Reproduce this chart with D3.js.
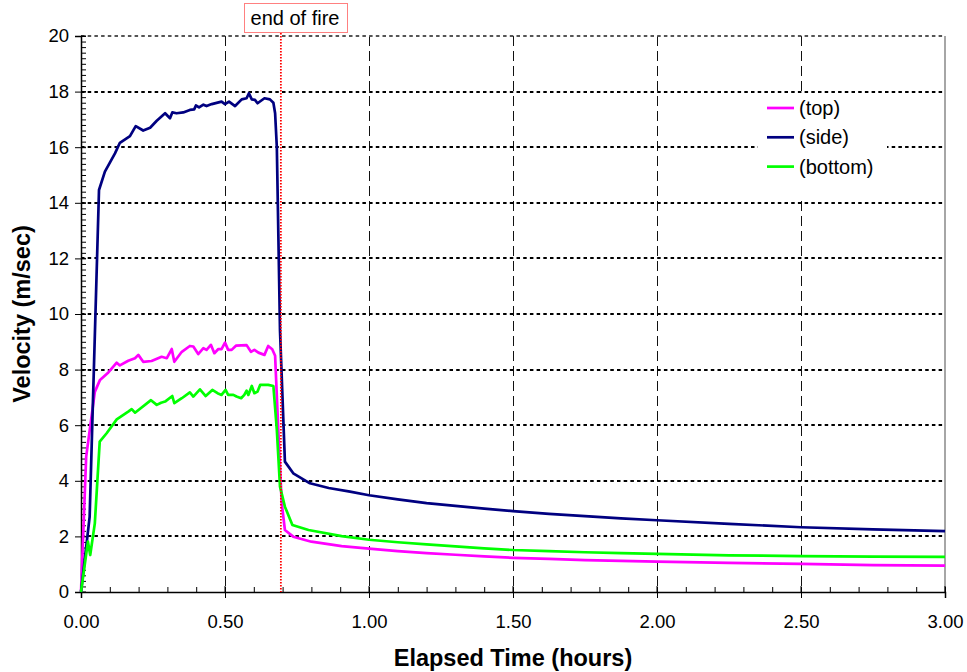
<html lang="en"><head>
<meta charset="utf-8">
<style>
body { margin: 0; background: #fff; font-family: Arial, "Liberation Sans", sans-serif; }
</style>
<script src="https://d3js.org/d3.v7.min.js"></script>
</head><body>
<div id="chart"></div>
<script>
// values: [hours, m/sec]
var topData = [[0,0],[0.018,4.87],[0.048,7.2],[0.066,7.63],[0.095,7.9],[0.124,8.25],[0.135,8.15],[0.164,8.32],[0.1875,8.41],[0.199,8.53],[0.216,8.28],[0.245,8.31],[0.28,8.46],[0.298,8.41],[0.315,8.74],[0.324,8.28],[0.35,8.64],[0.378,8.85],[0.39,8.83],[0.407,8.56],[0.425,8.77],[0.436,8.71],[0.451,8.89],[0.463,8.59],[0.477,8.74],[0.488,8.74],[0.5,8.97],[0.511,8.71],[0.523,8.71],[0.538,8.86],[0.575,8.88],[0.59,8.64],[0.602,8.71],[0.616,8.61],[0.637,8.53],[0.65,8.85],[0.664,8.73],[0.674,8.5],[0.685,5.83],[0.697,3.19],[0.708,2.23],[0.737,1.99],[0.8,1.81],[0.905,1.65],[1.0,1.56],[1.1,1.47],[1.2,1.4],[1.3,1.34],[1.4,1.28],[1.5,1.23],[1.625,1.19],[1.75,1.15],[1.875,1.12],[2.0,1.09],[2.25,1.05],[2.5,1.01],[2.75,0.97],[3.0,0.95]];

var sideData = [[0,0],[0.03,2.7],[0.0625,14.46],[0.083,15.12],[0.118,15.78],[0.135,16.16],[0.17,16.4],[0.19,16.76],[0.216,16.6],[0.24,16.7],[0.263,16.95],[0.292,17.22],[0.309,17.04],[0.317,17.25],[0.332,17.22],[0.355,17.25],[0.378,17.34],[0.393,17.36],[0.399,17.5],[0.41,17.43],[0.425,17.53],[0.436,17.48],[0.454,17.55],[0.488,17.64],[0.5,17.55],[0.514,17.64],[0.535,17.48],[0.558,17.72],[0.575,17.76],[0.583,17.94],[0.593,17.72],[0.604,17.7],[0.613,17.58],[0.637,17.76],[0.656,17.72],[0.668,17.6],[0.674,17.22],[0.68,16.0],[0.691,9.4],[0.708,4.69],[0.737,4.27],[0.795,3.91],[0.86,3.74],[0.934,3.61],[1.0,3.48],[1.1,3.33],[1.2,3.2],[1.3,3.1],[1.4,3.0],[1.5,2.91],[1.625,2.81],[1.75,2.73],[1.875,2.65],[2.0,2.58],[2.25,2.45],[2.5,2.33],[2.75,2.25],[3.0,2.19]];

var bottomData = [[0,0],[0.024,1.81],[0.032,1.33],[0.048,2.47],[0.065,5.41],[0.089,5.71],[0.124,6.21],[0.164,6.49],[0.176,6.58],[0.1875,6.45],[0.243,6.9],[0.263,6.73],[0.278,6.81],[0.292,6.85],[0.317,7.05],[0.324,6.79],[0.35,6.97],[0.378,7.18],[0.39,7.03],[0.413,7.29],[0.433,7.05],[0.456,7.27],[0.474,7.15],[0.488,7.09],[0.502,7.27],[0.511,7.09],[0.529,7.09],[0.54,7.03],[0.556,6.97],[0.567,7.09],[0.575,7.24],[0.581,7.09],[0.593,7.41],[0.602,7.15],[0.613,7.21],[0.622,7.45],[0.65,7.45],[0.668,7.41],[0.68,5.83],[0.691,3.79],[0.708,3.07],[0.734,2.41],[0.79,2.23],[0.905,2.01],[1.0,1.88],[1.1,1.79],[1.2,1.71],[1.3,1.64],[1.4,1.57],[1.5,1.51],[1.625,1.47],[1.75,1.43],[1.875,1.4],[2.0,1.37],[2.25,1.32],[2.5,1.29],[2.75,1.27],[3.0,1.26]];

var seriesNames = ["(top)", "(side)", "(bottom)"];
var seriesColors = ["#ff00ff", "#000080", "#00ff00"];
var xTicks = [0, 0.5, 1, 1.5, 2, 2.5, 3];
var yTicks = [0, 2, 4, 6, 8, 10, 12, 14, 16, 18, 20];
var endOfFire = 0.694;

var width = 967, height = 672;
var margin = { top: 36, right: 22, bottom: 80, left: 81 };
var w = width - margin.left - margin.right,
    h = height - margin.top - margin.bottom;
var font = "Arial, 'Liberation Sans', sans-serif";

var svg = d3.select("#chart").append("svg")
    .attr("width", width)
    .attr("height", height)
    .attr("font-family", font);

var g = svg.append("g")
    .attr("transform", "translate(" + margin.left + "," + margin.top + ")");

var x = d3.scaleLinear().domain([0, 3]).range([0, w]);
var y = d3.scaleLinear().domain([0, 20]).range([h, 0]);

// vertical dashed grid
g.append("g").selectAll("line")
    .data(xTicks.filter(d => d > 0 && d < 3))
    .join("line")
    .attr("x1", d => Math.round(x(d)) + 0.5).attr("x2", d => Math.round(x(d)) + 0.5)
    .attr("y1", 0).attr("y2", h)
    .attr("stroke", "#111").attr("stroke-width", 1)
    .attr("stroke-dasharray", "10,5");

// horizontal dotted grid
g.append("g").selectAll("line")
    .data(yTicks.filter(d => d > 0))
    .join("line")
    .attr("x1", 0).attr("x2", w)
    .attr("y1", d => Math.round(y(d))).attr("y2", d => Math.round(y(d)))
    .attr("stroke", d => d == 20 ? "#555" : "#000").attr("stroke-width", 2)
    .attr("stroke-dasharray", "3.5,3.2");

// right border
g.append("line")
    .attr("x1", w).attr("x2", w).attr("y1", 0).attr("y2", h)
    .attr("stroke", "#888").attr("stroke-width", 1.5);

// axes
var yAxis = d3.axisLeft(y).tickValues(yTicks).tickSize(6).tickPadding(6).tickFormat(d3.format("d"));
var yMinor = d3.axisRight(y).ticks(100).tickSize(5).tickFormat("");
var xAxis = d3.axisBottom(x).tickValues(xTicks).tickSize(6).tickPadding(17).tickFormat(d3.format(".2f"));
var xMinor = d3.axisTop(x).ticks(30).tickSize(5).tickFormat("");

function styleAxis(sel) {
    sel.selectAll("text").attr("font-size", 18.5).attr("font-family", font).attr("fill", "#000");
    sel.selectAll("line").attr("stroke", "#000");
    sel.select(".domain").attr("stroke", "#000").attr("stroke-width", 1.5);
}

g.append("g").call(yAxis).call(styleAxis);
g.append("g").call(yMinor).call(g => g.select(".domain").remove()).selectAll("line").attr("stroke", "#000");
g.append("g").attr("transform", "translate(0," + h + ")").call(xAxis).call(styleAxis);
g.append("g").attr("transform", "translate(0," + h + ")").call(xMinor).call(g => g.select(".domain").remove()).selectAll("line").attr("stroke", "#000");

// major ticks cross the axis lines
g.append("g").selectAll("line").data(yTicks).join("line")
    .attr("x1", 0).attr("x2", 5).attr("y1", d => y(d)).attr("y2", d => y(d)).attr("stroke", "#000");
g.append("g").selectAll("line").data(xTicks).join("line")
    .attr("x1", d => x(d)).attr("x2", d => x(d)).attr("y1", h).attr("y2", h - 6).attr("stroke", "#000");

// legend background
var lgX = 758 - margin.left, lgY = 93 - margin.top;
g.append("rect")
    .attr("x", lgX).attr("y", lgY).attr("width", 129).attr("height", 106)
    .attr("fill", "#fff");

// series
var line = d3.line().x(d => x(d[0])).y(d => y(d[1]));
var allSeries = [topData, sideData, bottomData];
g.append("g").selectAll("path")
    .data(allSeries)
    .join("path")
    .attr("d", line)
    .attr("fill", "none")
    .attr("stroke", (d, i) => seriesColors[i])
    .attr("stroke-width", 2.7)
    .attr("stroke-linejoin", "round");

// end of fire marker
g.append("line")
    .attr("x1", x(endOfFire)).attr("x2", x(endOfFire))
    .attr("y1", -3).attr("y2", h)
    .attr("stroke", "#ff0000").attr("stroke-width", 1.8)
    .attr("stroke-dasharray", "1.5,1.5");

svg.append("rect")
    .attr("x", 244.5).attr("y", 3.5).attr("width", 103).attr("height", 29)
    .attr("fill", "#fff").attr("stroke", "#ff0000").attr("stroke-width", 1)
    .attr("stroke-dasharray", "1,1");
svg.append("text")
    .attr("x", 295).attr("y", 24.5)
    .attr("text-anchor", "middle")
    .attr("font-size", 20)
    .text("end of fire");

// legend
var legend = svg.append("g");
var rows = legend.selectAll("g").data(seriesNames).join("g")
    .attr("transform", (d, i) => "translate(767," + (108 + i * 29.3) + ")");
rows.append("line")
    .attr("x1", 0).attr("x2", 27)
    .attr("stroke", (d, i) => seriesColors[i]).attr("stroke-width", 2.7);
rows.append("text")
    .attr("x", 32).attr("y", 7)
    .attr("font-size", 20)
    .text(d => d);

// axis titles
svg.append("text")
    .attr("x", 513).attr("y", 666)
    .attr("text-anchor", "middle")
    .attr("font-size", 23.5).attr("font-weight", "bold")
    .text("Elapsed Time (hours)");
svg.append("text")
    .attr("transform", "translate(30," + (margin.top + h / 2) + ") rotate(-90)")
    .attr("text-anchor", "middle")
    .attr("font-size", 23.5).attr("font-weight", "bold")
    .text("Velocity (m/sec)");
</script>
</body></html>
